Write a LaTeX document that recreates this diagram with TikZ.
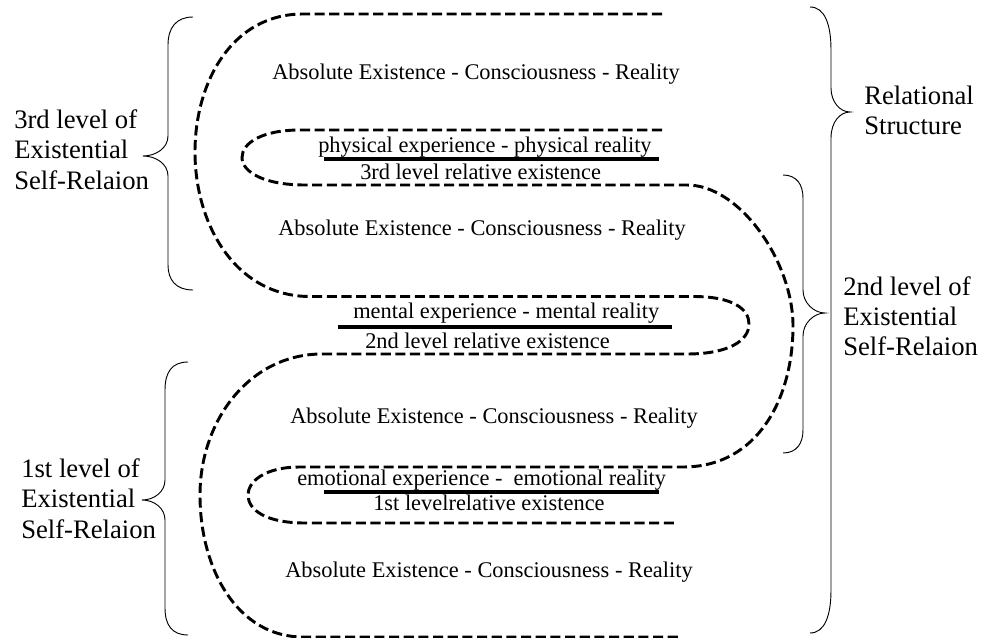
\documentclass[tikz,border=0pt]{standalone}
\usepackage{fontspec}
\setmainfont{Liberation Serif}
\begin{document}
\begin{tikzpicture}[x=0.75pt,y=-0.75pt,
  snake/.style={line width=2.2pt,dash pattern=on 7.6pt off 3.4pt},
  bar/.style={line width=3.6pt},
  brc/.style={line width=0.7pt},
  txt/.style={anchor=base west,inner sep=0pt,font=\fontsize{16.8}{20}\selectfont},
  lbl/.style={anchor=base west,inner sep=0pt,font=\fontsize{20}{22.5}\selectfont}]
\useasboundingbox (0,0) rectangle (982,638);

% serpentine A
\draw[snake] (662,14) -- (303,14)
  .. controls (232,14) and (195,82) .. (195,152)
  .. controls (195,225) and (236,296.5) .. (310,296.5) -- (693,296.5)
  .. controls (733,296.5) and (749,309) .. (749,324)
  .. controls (749,341) and (728,354) .. (687,354) -- (322,354)
  .. controls (250,354) and (200,420) .. (200,495)
  .. controls (200,570) and (238,637) .. (303,637) -- (680,637);

% serpentine B
\draw[snake] (662,130) -- (300,130)
  .. controls (262,130) and (242,143) .. (242,157.5)
  .. controls (242,172) and (264,185) .. (305,185) -- (687,185)
  .. controls (740,185) and (793,262) .. (793,326)
  .. controls (793,398) and (758,467) .. (683,467) -- (300,467)
  .. controls (264,467) and (248,482) .. (248,495)
  .. controls (248,510) and (266,523) .. (305,523) -- (675,523);

% texts
\node[txt] (a1) at (272,80) {Absolute Existence - Consciousness - Reality};
\node[txt] (p1) at (318,153) {physical experience - physical reality};
\node[txt] (p2) at (360,180) {3rd level relative existence};
\node[txt] (a2) at (278,235) {Absolute Existence - Consciousness - Reality};
\node[txt] (m1) at (353,318) {mental experience - mental reality};
\node[txt] (m2) at (365,348) {2nd level relative existence};
\node[txt] (a3) at (290,423) {Absolute Existence - Consciousness - Reality};
\node[txt] (e1) at (297,485) {emotional experience -\ \ emotional reality};
\node[txt] (e2) at (373,510) {1st levelrelative existence};
\node[txt] (a4) at (285,577) {Absolute Existence - Consciousness - Reality};

% underline bars
\coordinate (pu1) at (324,159); \coordinate (pu2) at (659,159);
\coordinate (mu1) at (338,327); \coordinate (mu2) at (672,327);
\coordinate (eu1) at (324,492); \coordinate (eu2) at (659,492);
\draw[bar] (pu1) -- (pu2);
\draw[bar] (mu1) -- (mu2);
\draw[bar] (eu1) -- (eu2);

% braces
\draw[brc] (193,17) .. controls (176,17) and (168,28) .. (168,45) -- (168,136)
  .. controls (168,148) and (156,156) .. (143,156)
  .. controls (156,156) and (168,164) .. (168,176) -- (168,265)
  .. controls (168,280) and (176,290) .. (193,290);
\draw[brc] (188,362) .. controls (172,362) and (165,372) .. (165,390) -- (165,480)
  .. controls (165,492) and (154,500) .. (142,500)
  .. controls (154,500) and (165,508) .. (165,520) -- (165,608)
  .. controls (165,625) and (172,635) .. (188,635);
\draw[brc] (810,7) .. controls (825,7) and (831,25) .. (831,50) -- (831,88)
  .. controls (831,102) and (840,112) .. (850,112)
  .. controls (840,112) and (831,122) .. (831,138) -- (831,590)
  .. controls (831,615) and (825,633) .. (810,633);
\draw[brc] (783,175) .. controls (797,175) and (803,185) .. (803,198) -- (803,290)
  .. controls (803,303) and (814,313) .. (825,313)
  .. controls (814,313) and (803,323) .. (803,336) -- (803,430)
  .. controls (803,443) and (797,453) .. (783,453);

% side labels
\node[lbl] (l3a) at (14,129) {3rd level of};
\node[lbl] (l3b) at (14,159) {Existential};
\node[lbl] (l3c) at (14,190) {Self-Relaion};
\node[lbl] (l1a) at (21,477) {1st level of};
\node[lbl] (l1b) at (21,507) {Existential};
\node[lbl] (l1c) at (21,538) {Self-Relaion};
\node[lbl] (rsa) at (864,105) {Relational};
\node[lbl] (rsb) at (864,135) {Structure};
\node[lbl] (l2a) at (843,295) {2nd level of};
\node[lbl] (l2b) at (843,325) {Existential};
\node[lbl] (l2c) at (843,355) {Self-Relaion};
\end{tikzpicture}
\end{document}
